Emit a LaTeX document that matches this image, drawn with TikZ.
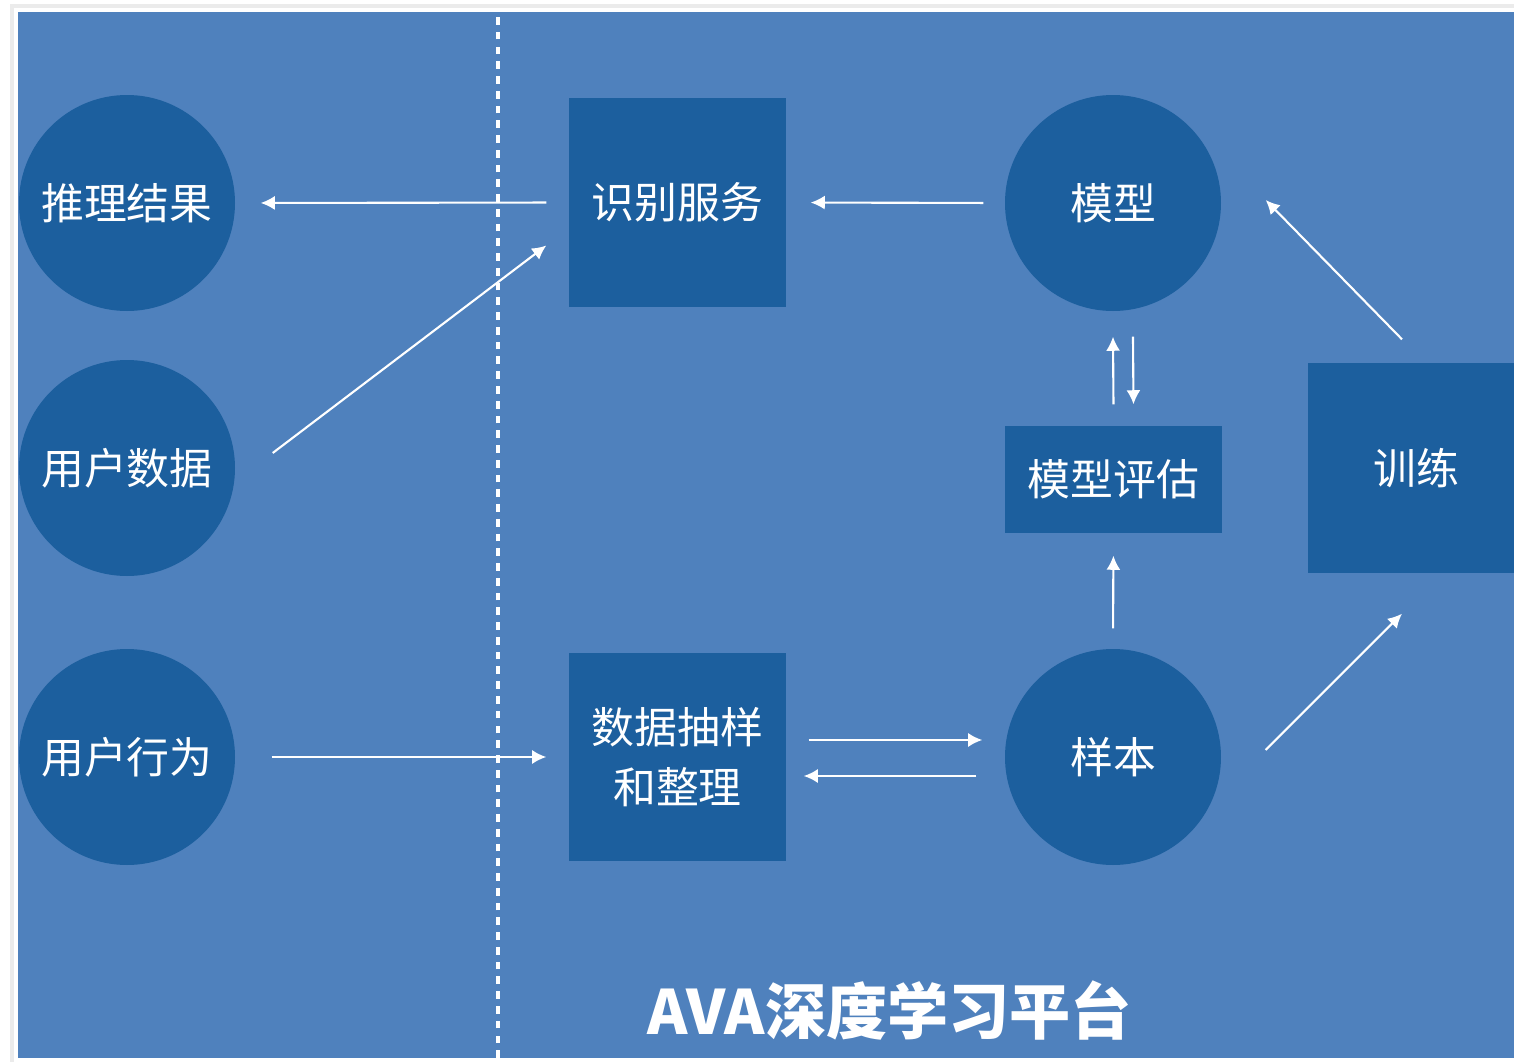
\documentclass[tikz,border=0pt]{standalone}
\usepackage{fontspec}
\newfontfamily\cjk{Noto Sans CJK SC}
\usepackage{tikz}
\usetikzlibrary{arrows.meta,calc}
\definecolor{bgblue}{RGB}{79,129,189}
\definecolor{darkblue}{RGB}{28,95,158}

\begin{document}
\begin{tikzpicture}[
    yuan/.style={circle,fill=darkblue,minimum size=2.16cm,inner sep=0pt,text=white,font=\cjk\fontsize{12.2}{17.3}\selectfont},
    fang/.style={rectangle,fill=darkblue,inner sep=0pt,text=white,align=center,font=\cjk\fontsize{12.2}{17.3}\selectfont},
    jt/.style={white,line width=0.6pt,-{Latex[length=4pt,width=4pt]}}
  ]
            \useasboundingbox (0,0) rectangle (15.14,10.61);
            % 背景
            \fill[white] (0,0) rectangle (15.14,10.61);
            \draw[black!8,line width=1.2pt] (0.12,-0.1) -- (0.12,10.55) -- (15.3,10.55);
            \fill[bgblue] (0.18,0.03) rectangle (15.14,10.49);
            % 分隔虚线
            \draw[white,line width=1.1pt,dash pattern=on 2.2pt off 2pt] (4.98,0.03) -- (4.98,10.49);

            % 左侧
            \node[yuan] (tl) at (1.27,8.58) {推理结果};
            \node[yuan] (sj) at (1.27,5.93) {用户数据};
            \node[yuan] (xw) at (1.27,3.04) {用户行为};

            % 平台内部
            \node[fang,minimum width=2.17cm,minimum height=2.09cm] (sb) at (6.775,8.585) {识别服务};
            \node[fang,minimum width=2.17cm,minimum height=2.08cm] (cy) at (6.775,3.04) {数据抽样\\和整理};
            \node[yuan] (mx) at (11.13,8.58) {模型};
            \node[fang,minimum width=2.17cm,minimum height=1.07cm] (pg) at (11.135,5.815) {模型评估};
            \node[yuan] (yb) at (11.13,3.04) {样本};
            \node[fang,minimum width=2.16cm,minimum height=2.10cm] (xl) at (14.16,5.93) {训练};
            \node[text=white,font=\cjk\bfseries\fontsize{17.4}{20}\selectfont] (bt) at (8.9,0.51) {AVA深度学习平台};

            % 箭头
            \draw[jt,shorten <=0.22cm,shorten >=0.25cm] (sb.west) -- (tl.east);
            \draw[jt,shorten <=0.21cm,shorten >=0.24cm] (mx.west) -- (sb.east);
            \draw[jt] ($(sj.east)+(0.37,0.15)$) -- ($(sb.west)+(-0.22,-0.43)$);
            \draw[jt,shorten <=0.36cm,shorten >=0.22cm] (xw.east) -- (cy.west);
            \draw[jt] ($(cy.east)+(0.22,0.17)$) -- ($(yb.west)+(-0.22,0.17)$);
            \draw[jt] ($(yb.west)+(-0.28,-0.19)$) -- ($(cy.east)+(0.17,-0.19)$);
            \draw[jt,shorten <=0.2cm,shorten >=0.22cm] (yb.north) -- (pg.south);
            \draw[jt] ($(pg.north)+(0,0.21)$) -- ($(mx.south)+(0,-0.25)$);
            \draw[jt] ($(mx.south)+(0.2,-0.25)$) -- ($(pg.north)+(0.2,0.21)$);
            \draw[jt] ($(xl.north)+(-0.14,0.23)$) -- ($(mx.east)+(0.44,0.03)$);
            \draw[jt] ($(yb.east)+(0.44,0.07)$) -- ($(xl.south)+(-0.14,-0.40)$);
          \end{tikzpicture}
\end{document}
